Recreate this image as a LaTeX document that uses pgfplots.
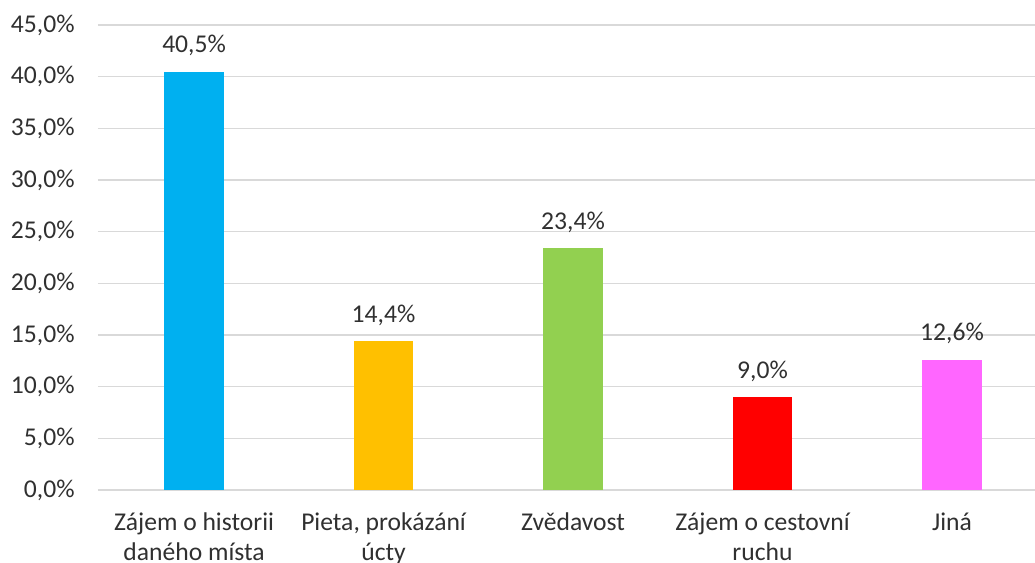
\documentclass[border=0pt]{standalone}
\usepackage{pgfplots}
\pgfplotsset{compat=1.18}
\usepackage{fontspec}
\setmainfont{Carlito}
\definecolor{cblue}{HTML}{00B0F0}
\definecolor{cgold}{HTML}{FFC000}
\definecolor{cgreen}{HTML}{92D050}
\definecolor{cred}{HTML}{FF0000}
\definecolor{cpink}{HTML}{FF66FF}
\definecolor{gridc}{HTML}{D9D9D9}
\definecolor{txt}{HTML}{303030}
\begin{document}
\begin{tikzpicture}
\useasboundingbox (0,0) rectangle (517.5pt,281.5pt);
\clip (0,0) rectangle (517.5pt,281.5pt);
\begin{axis}[
  at={(49pt,36.5pt)}, anchor=south west,
  scale only axis, width=468.5pt, height=232.5pt,
  ybar, bar width=29.6pt, bar shift=0pt,
  xmin=-0.507, xmax=4.438, ymin=0, ymax=45,
  ytick={0,5,...,45},
  xtick={0,1,2,3,4},
  xticklabels={{\rule{0pt}{12pt}Zájem o historii\\daného místa},{\rule{0pt}{12pt}Pieta, prokázání\\úcty},{\rule{0pt}{12pt}Zvědavost},{\rule{0pt}{12pt}Zájem o cestovní\\ruchu},{\rule{0pt}{12pt}Jiná}},
  xticklabel style={align=center, anchor=north, inner sep=0pt, yshift=-8pt, font=\fontsize{12.8}{15}\selectfont, text=txt},
  yticklabel={\pgfmathprintnumber[fixed, fixed zerofill, precision=1, use comma]{\tick}\%},
  yticklabel style={anchor=east, inner sep=0pt, xshift=-11.5pt, font=\fontsize{12.8}{14}\selectfont, text=txt},
  /pgf/number format/assume math mode=true,
  major tick length=0pt,
  axis line style={draw=none},
  ymajorgrids, grid style={draw=gridc, line width=0.6pt},
  nodes near coords={\pgfmathprintnumber[fixed, fixed zerofill, precision=1, use comma]{\pgfplotspointmeta}\%},
  nodes near coords style={anchor=base, inner sep=0pt, yshift=9.5pt, font=\fontsize{12.8}{14}\selectfont, text=txt},
  point meta=y,
  clip=false,
]
\addplot[fill=cblue, draw=none] coordinates {(0,40.5)};
\addplot[fill=cgold, draw=none] coordinates {(1,14.4)};
\addplot[fill=cgreen, draw=none] coordinates {(2,23.4)};
\addplot[fill=cred, draw=none] coordinates {(3,9.0)};
\addplot[fill=cpink, draw=none] coordinates {(4,12.6)};
\end{axis}
\end{tikzpicture}
\end{document}
